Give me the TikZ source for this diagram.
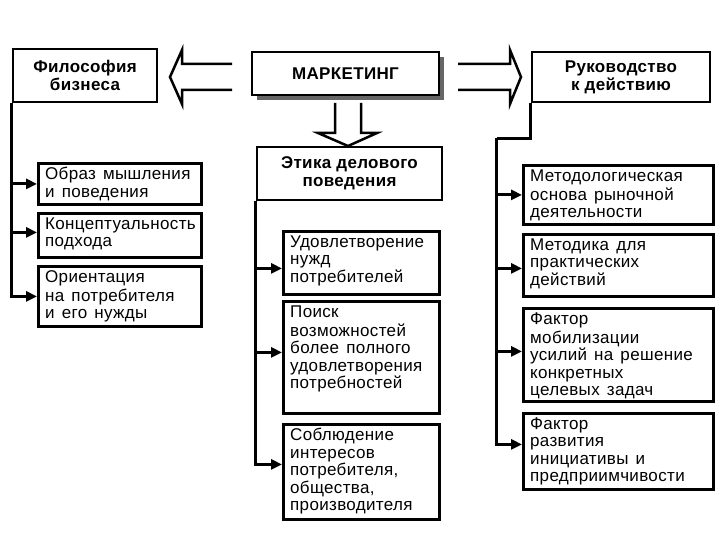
\documentclass[tikz,border=0pt]{standalone}
\usepackage{fontspec}
\setmainfont{Liberation Sans}
\newfontfamily\bodyf{Liberation Sans}[LetterSpace=2,WordSpace=1.4]
\newfontfamily\headf{Liberation Sans}[LetterSpace=2,UprightFont=* Bold]
\usetikzlibrary{arrows.meta,shadows}
\setlength{\lineskiplimit}{-20pt}
\tikzset{
  ln/.style={line width=2.8pt},
  boxst/.style={draw, line width=2.8pt, inner sep=0pt, fill=white},
  hdst/.style={draw, line width=2.8pt, inner sep=0pt, fill=white, align=center,
    font=\headf\fontsize{17}{18}\selectfont},
  txtst/.style={inner sep=0pt, font=\bodyf\fontsize{17}{17.5}\selectfont},
  arr/.style={line width=2.8pt, -{Triangle[length=11pt,width=10pt]}},
  hollow/.style={line width=2.5pt, line join=miter}
}
\newcommand\ibox[6]{%
  \node[boxst, anchor=north west, minimum width={#4-#2}, minimum height={#5-#3}] (#1) at (#2,#3) {};
  \node[txtst, anchor=north west] (#1t) at ([xshift=8pt,yshift=-5pt]#1.north west)
    {\parbox[t]{180pt}{\raggedright\strut #6}};
}
\begin{document}
\begin{tikzpicture}[x=1pt,y=-1pt]
\useasboundingbox (0,0) rectangle (720,540);
% header boxes
\node[hdst, minimum width=144, minimum height=53] (phil) at (85,75.5) {Философия\\бизнеса};
\node[hdst, minimum width=187, minimum height=43,
  drop shadow={shadow xshift=5pt, shadow yshift=-5pt, fill=black!60, opacity=1}] (mark) at (345.5,73.5) {МАРКЕТИНГ};
\node[hdst, minimum width=178, minimum height=50] (ruk) at (621,77) {Руководство\\к действию};
\node[hdst, minimum width=185, minimum height=53] (etika) at (349.5,173.5) {Этика делового\\поведения};
% hollow arrows
\draw[hollow] (232,64) -- (182,64) -- (182,50) -- (170,77) -- (182,104) -- (182,90) -- (232,90);
\draw[hollow] (458,64) -- (510,64) -- (510,50) -- (521,77) -- (510,104) -- (510,90) -- (458,90);
\draw[hollow] (335,103) -- (335,133) -- (318,133) -- (348,146) -- (377,133) -- (361,133) -- (361,103);
% left column
\ibox{A1}{37}{162}{200}{203}{Образ мышления\\и поведения}
\ibox{A2}{37}{212}{200}{256}{Концептуальность\\подхода}
\ibox{A3}{37}{265}{200}{325}{Ориентация\\на потребителя\\и его нужды}
% middle column
\ibox{B1}{282}{230}{438}{293}{Удовлетворение\\нужд\\потребителей}
\ibox{B2}{282}{300}{438}{412}{Поиск\\возможностей\\более полного\\удовлетворения\\потребностей}
\ibox{B3}{282}{423}{438}{518}{Соблюдение\\интересов\\потребителя,\\общества,\\производителя}
% right column
\ibox{C1}{522}{164}{712}{223}{Методологическая\\основа рыночной\\деятельности}
\ibox{C2}{522}{233}{712}{295}{Методика для\\практических\\действий}
\ibox{C3}{522}{307}{712}{400}{Фактор\\мобилизации\\усилий на решение\\конкретных\\целевых задач}
\ibox{C4}{522}{412}{712}{488}{Фактор\\развития\\инициативы и\\предприимчивости}
% arrow entry points
\coordinate (a1) at (A1.west);
\coordinate (a2) at ([yshift=3pt]A2.west);
\coordinate (a3) at (A3.west);
\coordinate (b1) at ([yshift=-5.5pt]B1.west);
\coordinate (b2) at ([yshift=5pt]B2.west);
\coordinate (b3) at ([yshift=7.5pt]B3.west);
\coordinate (c1) at (C1.west);
\coordinate (c2) at ([yshift=-3pt]C2.west);
\coordinate (c3) at ([yshift=3.5pt]C3.west);
\coordinate (c4) at ([yshift=7pt]C4.west);
\coordinate (rt) at ([yshift=-35pt]ruk.south west);
\coordinate (rs) at ([xshift=-34pt]rt);
% left connectors
\draw[arr] (phil.south west) |- (a3);
\draw[arr] (phil.south west |- a1) -- (a1);
\draw[arr] (phil.south west |- a2) -- (a2);
% middle connectors
\draw[arr] (etika.south west) |- (b3);
\draw[arr] (etika.south west |- b1) -- (b1);
\draw[arr] (etika.south west |- b2) -- (b2);
% right connectors
\draw[ln] (ruk.south west) -- (rt) -- (rs);
\draw[arr] (rs) |- (c4);
\draw[arr] (rs |- c1) -- (c1);
\draw[arr] (rs |- c2) -- (c2);
\draw[arr] (rs |- c3) -- (c3);
\end{tikzpicture}
\end{document}
